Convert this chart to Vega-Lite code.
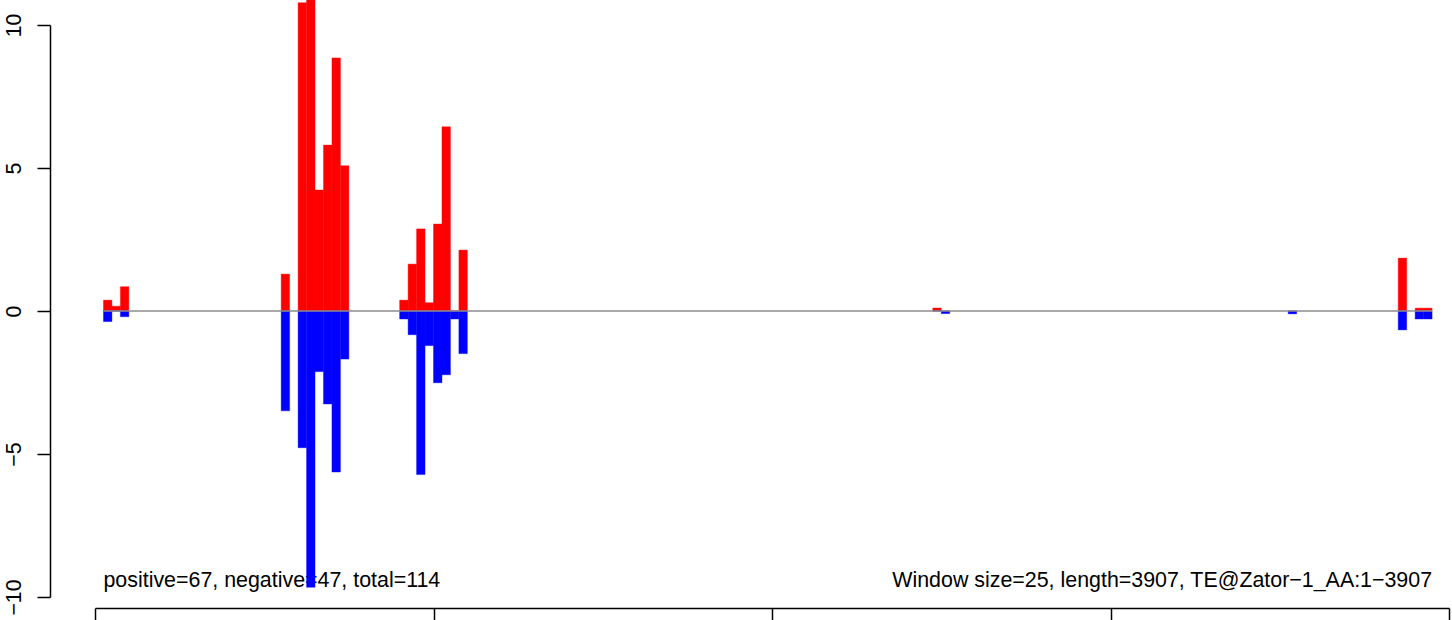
{
  "$schema": "https://vega.github.io/schema/vega-lite/v6.json",
  "width": 1402,
  "height": 608,
  "autosize": {"type": "none"},
  "padding": {"left": 50, "top": 0, "right": 0, "bottom": 12},
  "background": "white",
  "config": {"view": {"stroke": null}, "font": "Liberation Sans"},
  "data": {"values": [
    {"start": 25, "end": 50, "pos": 0.38, "neg": -0.37},
    {"start": 50, "end": 75, "pos": 0.17, "neg": 0},
    {"start": 75, "end": 100, "pos": 0.85, "neg": -0.2},
    {"start": 550, "end": 575, "pos": 1.29, "neg": -3.49},
    {"start": 600, "end": 625, "pos": 10.78, "neg": -4.78},
    {"start": 625, "end": 650, "pos": 11.2, "neg": -9.66},
    {"start": 650, "end": 675, "pos": 4.23, "neg": -2.12},
    {"start": 675, "end": 700, "pos": 5.8, "neg": -3.25},
    {"start": 700, "end": 725, "pos": 8.85, "neg": -5.63},
    {"start": 725, "end": 750, "pos": 5.08, "neg": -1.68},
    {"start": 900, "end": 925, "pos": 0.38, "neg": -0.28},
    {"start": 925, "end": 950, "pos": 1.64, "neg": -0.83},
    {"start": 950, "end": 975, "pos": 2.87, "neg": -5.72},
    {"start": 975, "end": 1000, "pos": 0.29, "neg": -1.21},
    {"start": 1000, "end": 1025, "pos": 3.04, "neg": -2.51},
    {"start": 1025, "end": 1050, "pos": 6.44, "neg": -2.23},
    {"start": 1050, "end": 1075, "pos": 0, "neg": -0.28},
    {"start": 1075, "end": 1100, "pos": 2.13, "neg": -1.49},
    {"start": 2475, "end": 2500, "pos": 0.105, "neg": 0},
    {"start": 2500, "end": 2525, "pos": 0, "neg": -0.09},
    {"start": 3525, "end": 3550, "pos": 0, "neg": -0.1},
    {"start": 3850, "end": 3875, "pos": 1.85, "neg": -0.66},
    {"start": 3900, "end": 3925, "pos": 0.1, "neg": -0.28},
    {"start": 3925, "end": 3950, "pos": 0.1, "neg": -0.28}
  ]},
  "layer": [
    {
      "data": {"values": [{"label": "positive=67, negative=47, total=114", "px": 25, "py": -9.65}]},
      "mark": {"type": "text", "align": "left", "baseline": "alphabetic", "fontSize": 21.4, "font": "Liberation Sans", "color": "black"},
      "encoding": {
        "x": {"field": "px", "type": "quantitative",
          "scale": {"domain": [0, 4000], "range": [45, 1399], "nice": false, "zero": false},
          "axis": {"values": [0, 1000, 2000, 3000, 4000], "tickSize": 13, "tickWidth": 1.5, "domainWidth": 1.5,
                   "domainColor": "black", "tickColor": "black", "labels": false, "title": null, "grid": false}},
        "y": {"field": "py", "type": "quantitative",
          "scale": {"domain": [-10, 10], "range": [597, 25], "nice": false, "zero": false},
          "axis": {"values": [-10, -5, 0, 5, 10], "tickSize": 13, "tickWidth": 1.5, "domainWidth": 1.5,
                   "domainColor": "black", "tickColor": "black", "labelColor": "black", "labelFontSize": 21.3,
                   "labelFont": "Liberation Sans", "labelAngle": 270, "labelAlign": "center",
                   "labelBaseline": "alphabetic", "labelPadding": 17, "labelOverlap": false, "labelFlush": false,
                   "title": null, "grid": false}},
        "text": {"field": "label"}
      }
    },
    {
      "data": {"values": [{"label": "Window size=25, length=3907, TE@Zator−1_AA:1−3907", "px": 3950, "py": -9.65}]},
      "mark": {"type": "text", "align": "right", "baseline": "alphabetic", "fontSize": 21.4, "font": "Liberation Sans", "color": "black"},
      "encoding": {
        "x": {"field": "px", "type": "quantitative"},
        "y": {"field": "py", "type": "quantitative"},
        "text": {"field": "label"}
      }
    },
    {
      "mark": {"type": "rect", "color": "#FF0000", "stroke": "#FF0000", "strokeWidth": 0.4},
      "encoding": {
        "x": {"field": "start", "type": "quantitative"},
        "x2": {"field": "end"},
        "y": {"field": "pos", "type": "quantitative"},
        "y2": {"datum": 0}
      }
    },
    {
      "mark": {"type": "rect", "color": "#0000FF", "stroke": "#0000FF", "strokeWidth": 0.4},
      "encoding": {
        "x": {"field": "start", "type": "quantitative"},
        "x2": {"field": "end"},
        "y": {"field": "neg", "type": "quantitative"},
        "y2": {"datum": 0}
      }
    },
    {
      "data": {"values": [{"from": 25, "to": 3950, "level": 0}]},
      "mark": {"type": "rule", "color": "#8c8c8c", "strokeWidth": 1.3},
      "encoding": {
        "x": {"field": "from", "type": "quantitative"},
        "x2": {"field": "to"},
        "y": {"field": "level", "type": "quantitative"}
      }
    }
  ]
}
